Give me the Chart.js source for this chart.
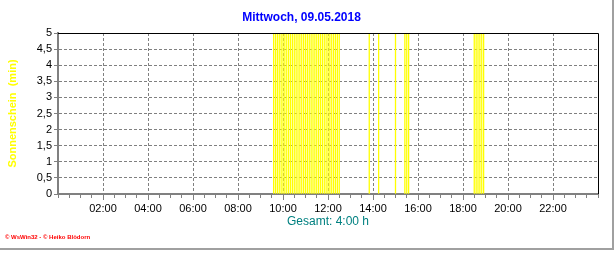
<!DOCTYPE html>
<html>
<head>
<meta charset="utf-8">
<script src="https://cdn.jsdelivr.net/npm/chart.js@4.4.1/dist/chart.umd.min.js"></script>
<style>
  html, body { margin: 0; padding: 0; background: #ffffff; }
  canvas { display: block; }
</style>
</head>
<body>
<canvas id="sunChart" width="616" height="253"></canvas>
<script>
const chartTitle = "Mittwoch, 09.05.2018";
const yAxisTitle = "Sonnenschein  (min)";
const xAxisTitle = "Gesamt: 4:00 h";
const footerText = "\u00a9 WsWin32 - \u00a9 Heiko Bl\u00f6dorn";

// start of every 5-minute interval with sunshine
const sunTimes = [
  "09:35", "09:40", "09:45", "09:50", "09:55",
  "10:00", "10:05", "10:10", "10:15", "10:20", "10:25",
  "10:30", "10:35", "10:40", "10:45", "10:50", "10:55",
  "11:00", "11:05", "11:10", "11:15", "11:20", "11:25",
  "11:30", "11:35", "11:40", "11:45", "11:50", "11:55",
  "12:00", "12:05", "12:10", "12:15", "12:20", "12:25", "12:30",
  "13:50", "14:15", "15:00", "15:25", "15:30", "15:35",
  "18:30", "18:35", "18:40", "18:45", "18:50", "18:55"
];
// sunshine minutes in each interval
const sunMinutes = [
  5, 5, 5, 5, 5,
  5, 5, 5, 5, 5, 5,
  5, 5, 5, 5, 5, 5,
  5, 5, 5, 5, 5, 5,
  5, 5, 5, 5, 5, 5,
  5, 5, 5, 5, 5, 5, 5,
  5, 5, 5, 5, 5, 5,
  5, 5, 5, 5, 5, 5
];

const hourLabels = ["02:00", "04:00", "06:00", "08:00", "10:00", "12:00",
                    "14:00", "16:00", "18:00", "20:00", "22:00"];
const yTickLabels = ["0", "0,5", "1", "1,5", "2", "2,5", "3", "3,5", "4", "4,5", "5"];

const FONT = "Arial, 'Liberation Sans', sans-serif";

function toHours(t) {
  const [h, m] = t.split(":").map(Number);
  return h + m / 60;
}

function isMajor(v) {
  return Math.abs(v % 2) < 1e-6 && v > 0 && v < 24;
}

const framePlugin = {
  id: "frame",
  afterDatasetsDraw(chart) {
    const { ctx, chartArea: a } = chart;
    ctx.save();
    ctx.strokeStyle = "#000000";
    ctx.lineWidth = 1;
    ctx.beginPath();
    ctx.moveTo(a.left, Math.round(a.top) + 0.5);
    ctx.lineTo(Math.round(a.right) + 0.5, Math.round(a.top) + 0.5);
    ctx.lineTo(Math.round(a.right) + 0.5, a.bottom);
    ctx.stroke();
    ctx.restore();
  },
  afterDraw(chart) {
    const { ctx, width, height } = chart;
    ctx.save();
    ctx.strokeStyle = "#a0a0a0";
    ctx.lineWidth = 2;
    ctx.beginPath();
    ctx.moveTo(width - 3, 0);
    ctx.lineTo(width - 3, height - 4);
    ctx.lineTo(0, height - 4);
    ctx.stroke();
    ctx.restore();
  }
};

new Chart(document.getElementById("sunChart"), {
  type: "bar",
  data: {
    datasets: [{
      data: sunTimes.map((t, i) => ({ x: toHours(t), y: sunMinutes[i] })),
      backgroundColor: "#ffff00",
      borderWidth: 0,
      barThickness: 1,
      inflateAmount: 0.15,
      grouped: false
    }]
  },
  plugins: [framePlugin],
  options: {
    responsive: false,
    animation: false,
    devicePixelRatio: 1,
    layout: { padding: { left: 5, right: 18, top: 0, bottom: 0 } },
    plugins: {
      legend: { display: false },
      tooltip: { enabled: false },
      title: {
        display: true,
        text: chartTitle,
        color: "#0000ff",
        font: { family: FONT, size: 12, weight: "bold" },
        padding: { top: 10, bottom: 8.6 }
      },
      subtitle: {
        display: true,
        position: "bottom",
        align: "start",
        text: footerText,
        color: "#ff0000",
        font: { family: FONT, size: 6, weight: "bold" },
        padding: { top: 0, bottom: 11.8 }
      }
    },
    scales: {
      x: {
        type: "linear",
        min: 0,
        max: 24,
        offset: false,
        afterFit(scale) { scale.height = 40; },
        ticks: {
          stepSize: 0.5,
          autoSkip: false,
          maxRotation: 0,
          minRotation: 0,
          padding: 2,
          color: "#000000",
          font: { family: FONT, size: 11 },
          callback(value) {
            return isMajor(value) ? hourLabels[value / 2 - 1] : "";
          }
        },
        grid: {
          offset: false,
          color: (ctx) => (ctx.tick && isMajor(ctx.tick.value) ? "#808080" : "rgba(0,0,0,0)"),
          tickColor: "#808080",
          tickLength: 6,
          tickBorderDash: (ctx) => (ctx.tick && isMajor(ctx.tick.value) ? [] : [3, 20])
        },
        border: { color: "#808080", width: 2, dash: [3, 2] },
        title: {
          display: true,
          text: xAxisTitle,
          color: "#008080",
          font: { family: FONT, size: 12 },
          padding: { top: 0, bottom: 5 }
        }
      },
      y: {
        min: 0,
        max: 5,
        afterFit(scale) { scale.width = 53; },
        ticks: {
          stepSize: 0.5,
          autoSkip: false,
          padding: 2,
          color: "#000000",
          font: { family: FONT, size: 11 },
          callback(value) {
            return yTickLabels[Math.round(value * 2)];
          }
        },
        grid: {
          color: "#808080",
          tickColor: "#808080",
          tickLength: 4
        },
        border: { color: "#808080", width: 2, dash: [3, 2] },
        title: {
          display: true,
          text: yAxisTitle,
          color: "#ffff00",
          font: { family: FONT, size: 11, weight: "bold" },
          padding: { top: 1.4, bottom: 0 }
        }
      }
    }
  }
});
</script>
</body>
</html>
